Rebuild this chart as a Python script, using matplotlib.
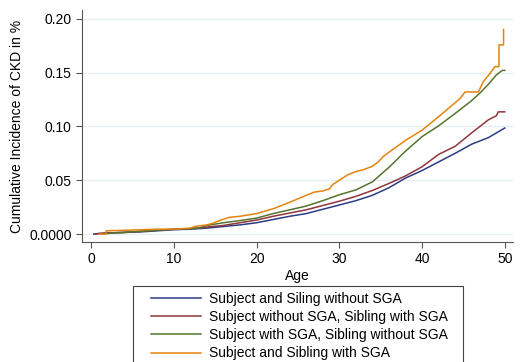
import matplotlib
matplotlib.use("Agg")
import matplotlib.pyplot as plt
from matplotlib.patches import Rectangle

plt.rcParams["font.family"] = ["Liberation Sans", "DejaVu Sans"]

# Cumulative incidence curves (age, value)
age_blue = [0.3, 1, 2, 4, 6, 8, 10, 12, 14, 16, 18, 20, 22, 24, 26, 28, 30, 32,
            34, 36, 38, 40, 42, 44, 46, 48, 49, 50]
val_blue = [0.0, 0.0005, 0.001, 0.0015, 0.002, 0.003, 0.004, 0.0045, 0.0055, 0.007,
            0.0085, 0.0105, 0.0135, 0.0165, 0.019, 0.023, 0.027, 0.031, 0.036, 0.043,
            0.052, 0.059, 0.067, 0.075, 0.0835, 0.0895, 0.094, 0.0985]

age_red = [0.5, 1, 2, 4, 6, 8, 10, 12, 14, 16, 18, 20, 22, 24, 26, 28, 30, 32, 34,
           36, 38, 40, 42, 44, 46, 47, 48, 49, 49.2, 50]
val_red = [0.0, 0.0005, 0.001, 0.0015, 0.0025, 0.0035, 0.0045, 0.005, 0.0065, 0.008,
           0.0105, 0.013, 0.0165, 0.0195, 0.0225, 0.0265, 0.0305, 0.035, 0.0405, 0.047,
           0.054, 0.0625, 0.074, 0.0815, 0.094, 0.100, 0.106, 0.110, 0.1135, 0.1135]

age_green = [1.5, 2.5, 4, 6, 8, 10, 12, 13, 14, 16, 18, 20, 22, 24, 26, 28, 30, 32,
             34, 36, 38, 40, 42, 44, 46, 47, 48, 49, 49.7, 50]
val_green = [0.0, 0.001, 0.0015, 0.0025, 0.0035, 0.0045, 0.005, 0.0055, 0.008, 0.0105,
             0.0125, 0.0148, 0.019, 0.0225, 0.026, 0.031, 0.0365, 0.041, 0.0485, 0.062,
             0.077, 0.0905, 0.1005, 0.112, 0.124, 0.131, 0.139, 0.148, 0.152, 0.152]

age_orange = [1.0, 1.8, 1.8, 4, 6, 8, 10, 12, 12.5, 14, 14.7, 15.5, 16.7, 18, 20, 22,
              24, 26, 27, 28, 28.8, 29.2, 30, 31, 32, 33, 34, 34.7, 35.3, 36, 38, 40,
              42, 44, 44.6, 45.2, 46.8, 47.0, 47.4, 48.2, 48.8, 49.3, 49.3, 49.85,
              49.85]
val_orange = [0.0, 0.0, 0.003, 0.0035, 0.004, 0.0045, 0.0045, 0.0055, 0.007, 0.0085,
              0.010, 0.0125, 0.0155, 0.0165, 0.019, 0.0235, 0.0295, 0.036, 0.039, 0.040,
              0.042, 0.046, 0.050, 0.055, 0.058, 0.060, 0.063, 0.067, 0.072, 0.076,
              0.087, 0.0965, 0.109, 0.122, 0.126, 0.132, 0.132, 0.135, 0.1415, 0.149,
              0.1555, 0.1555, 0.1757, 0.1757, 0.19]

labels = ["Subject and Siling without SGA",
          "Subject without SGA, Sibling with SGA",
          "Subject with SGA, Sibling without SGA",
          "Subject and Sibling with SGA"]
colors = ["#2c3c86", "#90353b", "#55752f", "#e3840e"]

fig = plt.figure(figsize=(5.23, 3.62), dpi=100)
ax = fig.add_axes([0.157, 0.3315, 0.824, 0.6405])

series = [(age_blue, val_blue), (age_red, val_red),
          (age_green, val_green), (age_orange, val_orange)]
for (x, y), lab, c in zip(series, labels, colors):
    ax.plot(x, y, color=c, linewidth=1.1, label=lab)

ax.set_xlim(-1.1, 51)
ax.set_ylim(-0.0074, 0.208)
ax.set_xticks([0, 10, 20, 30, 40, 50])
ax.set_yticks([0.0, 0.05, 0.10, 0.15, 0.20])
ax.set_yticklabels(["0.0000", "0.05", "0.10", "0.15", "0.20"])
ax.yaxis.grid(True, color="#e6eef0", linewidth=1)
ax.set_axisbelow(True)

for side in ["top", "right"]:
    ax.spines[side].set_visible(False)
for side in ["left", "bottom"]:
    ax.spines[side].set_color("#555555")
ax.tick_params(direction="out", color="#555555", labelsize=10, length=4)

ax.set_xlabel("Age", fontsize=10, labelpad=2)
ax.set_ylabel("Cumulative Incidence of CKD in %", fontsize=10, labelpad=4)

# legend box runs off the bottom of the picture, as in the original
fig.patches.append(Rectangle((133 / 523, -0.05), 330 / 523, 0.05 + 1 - 286 / 362,
                             transform=fig.transFigure, fill=False,
                             edgecolor="#444444", linewidth=0.8))
fig.legend(loc="upper left", bbox_to_anchor=(151 / 523, 1 - 292 / 362), ncol=1,
           fontsize=10, frameon=False,
           handlelength=3.6, handletextpad=0.6, labelspacing=0.3,
           borderpad=0, borderaxespad=0)

fig.savefig("out.png", dpi=100)
